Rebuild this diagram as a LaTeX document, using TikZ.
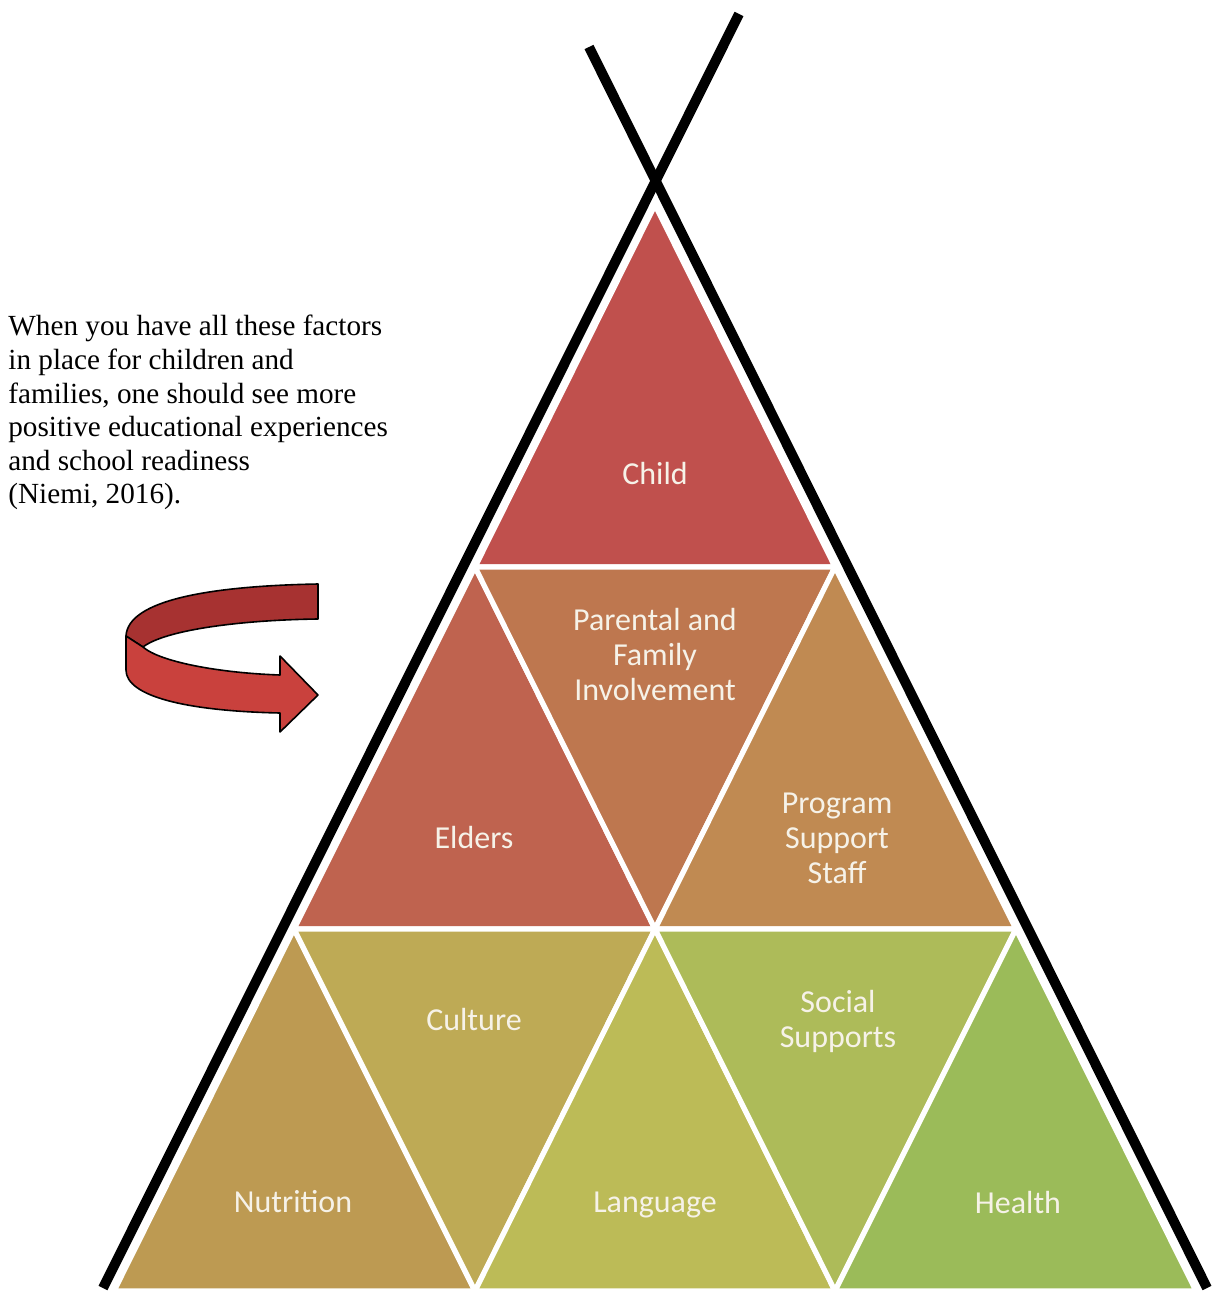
\documentclass[tikz,border=0pt]{standalone}
\usepackage{fontspec}
\setmainfont{Liberation Serif}
\newfontfamily\calfont{Carlito}
\definecolor{cChild}{HTML}{C0504D}
\definecolor{cElders}{HTML}{BF634F}
\definecolor{cParent}{HTML}{BE774F}
\definecolor{cProgram}{HTML}{C08A52}
\definecolor{cNutrition}{HTML}{BD9A52}
\definecolor{cCulture}{HTML}{BEAA55}
\definecolor{cLanguage}{HTML}{BCBB57}
\definecolor{cSocial}{HTML}{ADBB59}
\definecolor{cHealth}{HTML}{9BBB59}
\definecolor{labelcol}{RGB}{246,242,232}
\definecolor{arrowfront}{HTML}{C9413D}
\definecolor{arrowback}{HTML}{A73231}
\begin{document}
\begin{tikzpicture}[x=0.5pt,y=-0.5pt,
  tri/.style={draw=white,line width=2.6pt,line join=round},
  pole/.style={draw=black,line width=5pt},
  lbl/.style={text=labelcol,font=\calfont\fontsize{16}{17.5}\selectfont,align=center,inner sep=0pt},
  ribbon/.style={draw=black,line width=0.8pt,line join=round}]
\useasboundingbox (0,0) rectangle (1214,1299);
% grid points
\coordinate (A) at (655,205);
\coordinate (B1) at (475,567);
\coordinate (B2) at (835,567);
\coordinate (C1) at (294,929);
\coordinate (C2) at (655,929);
\coordinate (C3) at (1016,929);
\coordinate (D1) at (114,1291);
\coordinate (D2) at (475,1291);
\coordinate (D3) at (835,1291);
\coordinate (D4) at (1196,1291);
% triangles
\filldraw[tri,fill=cChild] (A) -- (B1) -- (B2) -- cycle;
\filldraw[tri,fill=cElders] (B1) -- (C1) -- (C2) -- cycle;
\filldraw[tri,fill=cParent] (B1) -- (B2) -- (C2) -- cycle;
\filldraw[tri,fill=cProgram] (B2) -- (C2) -- (C3) -- cycle;
\filldraw[tri,fill=cNutrition] (C1) -- (D1) -- (D2) -- cycle;
\filldraw[tri,fill=cCulture] (C1) -- (C2) -- (D2) -- cycle;
\filldraw[tri,fill=cLanguage] (C2) -- (D2) -- (D3) -- cycle;
\filldraw[tri,fill=cSocial] (C2) -- (C3) -- (D3) -- cycle;
\filldraw[tri,fill=cHealth] (C3) -- (D3) -- (D4) -- cycle;
% labels
\node[lbl] (child) at (655,473) {Child};
\node[lbl] (parental) at (655,655) {Parental and\\Family\\Involvement};
\node[lbl] (elders) at (474,837) {Elders};
\node[lbl] (program) at (837,838) {Program\\Support\\Staff};
\node[lbl] (culture) at (474,1019) {Culture};
\node[lbl] (social) at (838,1021) {Social\\Supports};
\node[lbl] (nutrition) at (293,1202) {Nutrition};
\node[lbl] (language) at (655,1205) {Language};
\node[lbl] (health) at (1018,1202) {Health};
% poles
\coordinate (P1a) at (103,1288);
\coordinate (P1b) at (739,14);
\coordinate (P2a) at (589,47);
\coordinate (P2b) at (1207,1288);
\draw[pole] (P1a) -- (P1b);
\draw[pole] (P2a) -- (P2b);
% text
\node[anchor=north west,align=left,inner sep=0pt,font=\fontsize{14.6}{16.8}\selectfont] (note) at (8,315)
 {When you have all these factors\\in place for children and\\families, one should see more\\positive educational experiences\\and school readiness\\(Niemi, 2016).};
% curved arrow
\filldraw[ribbon,fill=arrowback] (318,584) .. controls (210,586) and (128,600) .. (126,636)
  -- (143,647) .. controls (165,630) and (240,620) .. (318,619) -- cycle;
\filldraw[ribbon,fill=arrowfront] (126,636) -- (143,647) .. controls (160,662) and (220,673) .. (280,675)
  -- (280,656) -- (318,695) -- (280,732) -- (280,713)
  .. controls (185,711) and (126,696) .. (126,670) -- cycle;
\end{tikzpicture}
\end{document}
